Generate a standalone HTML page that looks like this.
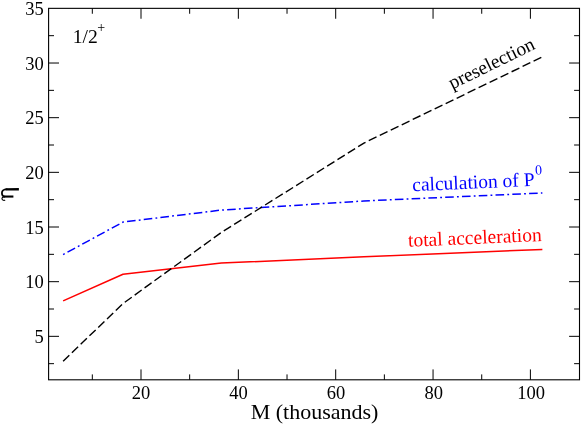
<!DOCTYPE html>
<html><head><meta charset="utf-8"><title>chart</title><style>html,body{margin:0;padding:0;background:#fff}body{width:581px;height:424px;overflow:hidden;font-family:"Liberation Serif",serif}</style></head><body>
<svg width="581" height="424" viewBox="0 0 581 424" style="display:block;will-change:transform;opacity:0.999">
<rect x="0" y="0" width="581" height="424" fill="#fff"/>
<polyline points="63.12,300.92 122.99,274.24 221.31,263.09 363.93,256.86 542.37,249.42" fill="none" stroke="#ff0000" stroke-width="1.5" stroke-linejoin="round"/>
<polyline points="63.12,254.56 122.99,222.09 221.31,210.06 363.93,200.99 542.37,193.01" fill="none" stroke="#0000ff" stroke-width="1.5" stroke-dasharray="8.6 3.2 1.8 3.2" stroke-dashoffset="11.8" stroke-linejoin="round"/>
<polyline points="63.12,361.27 122.99,303.54 221.31,232.48 363.93,143.04 542.37,56.89" fill="none" stroke="#000" stroke-width="1.4" stroke-dasharray="8.6 3.6" stroke-linejoin="round"/>
<rect x="48.6" y="8.35" width="530.9" height="371.45" fill="none" stroke="#000" stroke-width="1.1"/>
<path d="M92.32 379.8 v-5.4 M92.32 8.35 v5.4 M141.00 379.8 v-10.4 M141.00 8.35 v10.4 M189.67 379.8 v-5.4 M189.67 8.35 v5.4 M238.35 379.8 v-10.4 M238.35 8.35 v10.4 M287.02 379.8 v-5.4 M287.02 8.35 v5.4 M335.70 379.8 v-10.4 M335.70 8.35 v10.4 M384.37 379.8 v-5.4 M384.37 8.35 v5.4 M433.05 379.8 v-10.4 M433.05 8.35 v10.4 M481.72 379.8 v-5.4 M481.72 8.35 v5.4 M530.40 379.8 v-10.4 M530.40 8.35 v10.4 M48.6 363.67 h5.4 M579.5 363.67 h-5.4 M48.6 336.34 h10.4 M579.5 336.34 h-10.4 M48.6 309.01 h5.4 M579.5 309.01 h-5.4 M48.6 281.68 h10.4 M579.5 281.68 h-10.4 M48.6 254.34 h5.4 M579.5 254.34 h-5.4 M48.6 227.01 h10.4 M579.5 227.01 h-10.4 M48.6 199.68 h5.4 M579.5 199.68 h-5.4 M48.6 172.34 h10.4 M579.5 172.34 h-10.4 M48.6 145.01 h5.4 M579.5 145.01 h-5.4 M48.6 117.68 h10.4 M579.5 117.68 h-10.4 M48.6 90.35 h5.4 M579.5 90.35 h-5.4 M48.6 63.02 h10.4 M579.5 63.02 h-10.4 M48.6 35.68 h5.4 M579.5 35.68 h-5.4" stroke="#000" stroke-width="1.0" fill="none"/>
<g font-family="Liberation Serif, serif" font-size="18.5" fill="#000">
<text x="141.00" y="399.3" text-anchor="middle">20</text>
<text x="238.55" y="399.3" text-anchor="middle">40</text>
<text x="336.10" y="399.3" text-anchor="middle">60</text>
<text x="433.65" y="399.3" text-anchor="middle">80</text>
<text x="531.20" y="399.3" text-anchor="middle">100</text>
<text x="43.8" y="343.09" text-anchor="end">5</text>
<text x="43.8" y="288.43" text-anchor="end">10</text>
<text x="43.8" y="233.76" text-anchor="end">15</text>
<text x="43.8" y="179.09" text-anchor="end">20</text>
<text x="43.8" y="124.43" text-anchor="end">25</text>
<text x="43.8" y="69.77" text-anchor="end">30</text>
<text x="43.8" y="15.10" text-anchor="end">35</text>
</g>
<text x="314.5" y="419.2" text-anchor="middle" font-family="Liberation Serif, serif" font-size="22" fill="#000">M (thousands)</text>
<text x="72.8" y="42.6" font-family="Liberation Serif, serif" font-size="19.6" fill="#000">1/2<tspan font-size="14" dy="-10.5" dx="-0.6">+</tspan></text>
<g fill="none" stroke="#000" stroke-linejoin="round"><path d="M18.9 189.25 L5.5 189.4" stroke-width="2.3"/><path d="M7 189.25 C3.2 189.3 1.9 190.9 1.9 193 C1.9 195 2.9 196.4 4.8 196.55" stroke-width="1.7" stroke-linecap="round"/><path d="M13.4 196.55 L4.2 196.55" stroke-width="2.1"/><path d="M4.4 196.9 C2.5 197 1.6 198.2 2.1 199.2 C2.6 200.2 3.8 200.5 4.8 200.3" stroke-width="1.1" stroke-linecap="round"/></g>
<text transform="translate(452.2,89.6) rotate(-26.1)" font-family="Liberation Serif, serif" font-size="19.4" fill="#000">preselection</text>
<text transform="translate(412.5,191.2) rotate(-2.5)" font-family="Liberation Serif, serif" font-size="19.5" fill="#0000ff">calculation of P<tspan font-size="14" dy="-11" dx="1">0</tspan></text>
<text transform="translate(408.3,246.8) rotate(-2.5)" font-family="Liberation Serif, serif" font-size="19.5" fill="#ff0000">total acceleration</text>
</svg>
</body></html>
